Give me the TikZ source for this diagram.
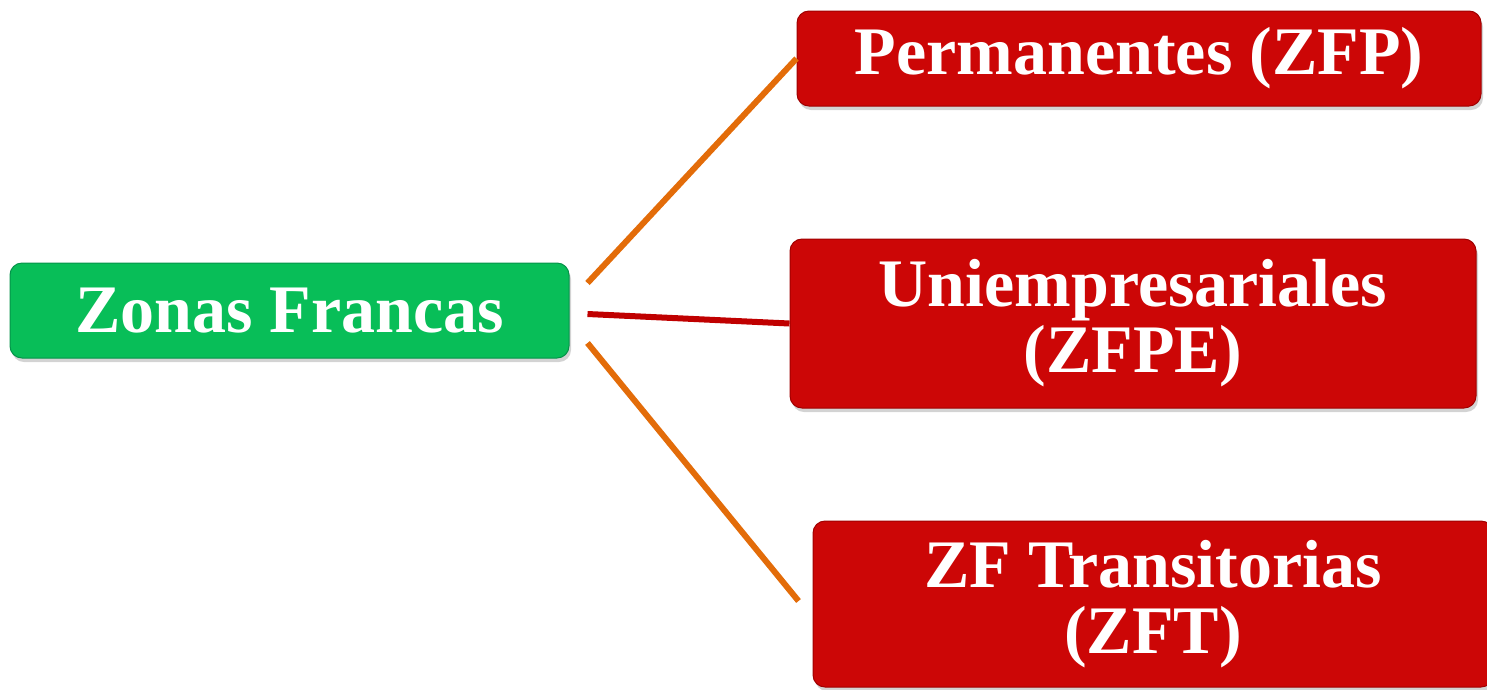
\documentclass[tikz,border=0pt]{standalone}
\usepackage{fontspec}
\setmainfont{Liberation Serif}
\usetikzlibrary{shadows,calc}
\definecolor{boxred}{HTML}{CC0606}
\definecolor{boxredline}{HTML}{A00000}
\definecolor{boxgreen}{HTML}{08BE58}
\definecolor{boxgreenline}{HTML}{05934A}
\definecolor{linkorange}{HTML}{E36C09}
\definecolor{linkred}{HTML}{C00000}
\begin{document}
\begin{tikzpicture}[x=1pt,y=-1pt,
  box/.style={rectangle, rounded corners=12pt, text=white, align=center,
    font=\fontsize{68}{66}\selectfont\bfseries, inner sep=0pt,
    drop shadow={shadow xshift=2pt, shadow yshift=-4pt, opacity=0.35}},
  redbox/.style={box, fill=boxred, draw=boxredline, line width=1pt},
  greenbox/.style={box, fill=boxgreen, draw=boxgreenline, line width=1pt},
  orangelink/.style={draw=linkorange, line width=6pt},
  redlink/.style={draw=linkred, line width=6pt}]
\useasboundingbox (0,0) rectangle (1487,689);
\node[greenbox, minimum width=559pt, minimum height=95pt] (zf) at (289.5,310.5) {Zonas Francas};
\node[redbox, minimum width=684pt, minimum height=95pt] (zfp) at (1139,58.5) {Permanentes (ZFP)};
\node[redbox, minimum width=686pt, minimum height=169pt] (zfpe) at (1133,323.5) {Uniempresariales\\(ZFPE)};
\node[redbox, minimum width=680pt, minimum height=166pt] (zft) at (1153,604) {ZF Transitorias\\(ZFT)};
\draw[orangelink] ($(zf.east)+(18,-27.5)$) -- (zfp.west);
\draw[redlink] ($(zf.east)+(18,3.5)$) -- (zfpe.west);
\draw[orangelink] ($(zf.east)+(18,32.5)$) -- ($(zft.west)+(-14,-3)$);
\end{tikzpicture}
\end{document}
